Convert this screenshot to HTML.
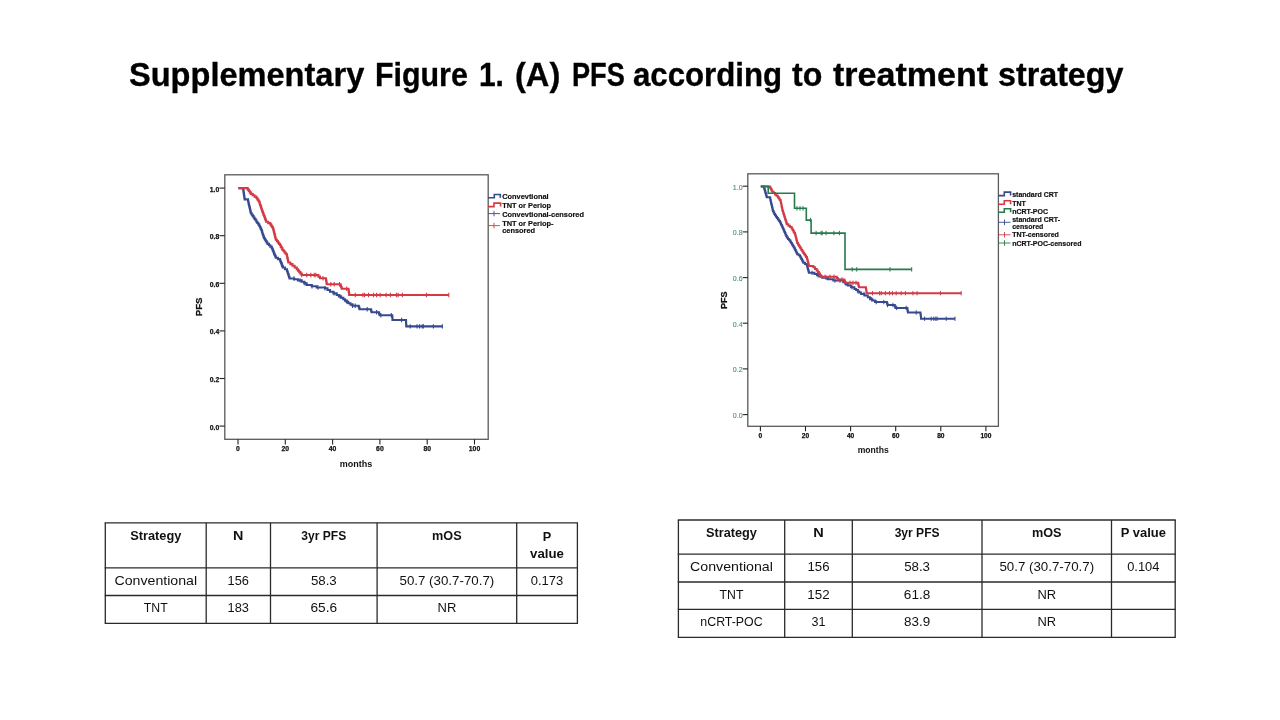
<!DOCTYPE html>
<html><head><meta charset="utf-8">
<style>
html,body{margin:0;padding:0;background:#fff;}
body{width:1280px;height:720px;position:relative;overflow:hidden;font-family:"Liberation Sans",sans-serif;}
.title{will-change:transform;position:absolute;left:0;top:53.8px;width:1280px;height:40px;font-weight:bold;font-size:34px;color:#000;white-space:nowrap;line-height:40px;}
.tw{position:absolute;top:0;transform-origin:0 0;-webkit-text-stroke:0.35px #000;}
svg{position:absolute;left:0;top:0;will-change:transform;}
.yt1,.xt1{font-family:"Liberation Sans",sans-serif;font-weight:bold;font-size:6.8px;fill:#111;stroke:#111;stroke-width:0.25px;}
.yt2{font-family:"Liberation Sans",sans-serif;font-size:7.0px;fill:#4f9672;stroke:#4f9672;stroke-width:0.15px;}
.xt2{font-family:"Liberation Sans",sans-serif;font-weight:bold;font-size:6.6px;fill:#111;stroke:#111;stroke-width:0.25px;}
.ax1{font-family:"Liberation Sans",sans-serif;font-weight:bold;font-size:9px;fill:#111;}
.ax1p{font-family:"Liberation Sans",sans-serif;font-weight:bold;font-size:9.6px;fill:#111;stroke:#111;stroke-width:0.25px;}
.ax2{font-family:"Liberation Sans",sans-serif;font-weight:bold;font-size:8.6px;fill:#111;}
.ax2p{font-family:"Liberation Sans",sans-serif;font-weight:bold;font-size:9.0px;fill:#111;stroke:#111;stroke-width:0.25px;}
.lg1{font-family:"Liberation Sans",sans-serif;font-weight:bold;font-size:7.4px;fill:#111;stroke:#111;stroke-width:0.18px;}
.lg2{font-family:"Liberation Sans",sans-serif;font-weight:bold;font-size:7.0px;fill:#111;stroke:#111;stroke-width:0.18px;}
table{position:absolute;border-collapse:collapse;font-family:"Liberation Sans",sans-serif;font-size:13.5px;color:#111;}
td{border:1.3px solid #333;text-align:center;vertical-align:top;padding:0;}
th{border:1.3px solid #333;text-align:center;vertical-align:top;padding:0;font-weight:bold;}
</style></head><body>
<div class="title"><span class="tw" style="left:129.0px;transform:scaleX(0.9578)">Supplementary</span><span class="tw" style="left:374.6px;transform:scaleX(0.8931)">Figure</span><span class="tw" style="left:478.9px;transform:scaleX(0.8792)">1.</span><span class="tw" style="left:515.1px;transform:scaleX(0.9591)">(A)</span><span class="tw" style="left:571.7px;transform:scaleX(0.7984)">PFS</span><span class="tw" style="left:633.3px;transform:scaleX(0.9176)">according</span><span class="tw" style="left:792.3px;transform:scaleX(0.9452)">to</span><span class="tw" style="left:833.3px;transform:scaleX(1.0006)">treatment</span><span class="tw" style="left:997.7px;transform:scaleX(0.9481)">strategy</span></div>
<svg width="1280" height="720" viewBox="0 0 1280 720">
<rect x="224.8" y="174.8" width="263.4" height="264.5" fill="none" stroke="#5a5a5a" stroke-width="1.3"/>
<line x1="219.5" y1="426.1" x2="224.8" y2="426.1" stroke="#222" stroke-width="1.1"/>
<text x="219.3" y="429.5" text-anchor="end" class="yt1">0.0</text>
<line x1="219.5" y1="378.5" x2="224.8" y2="378.5" stroke="#222" stroke-width="1.1"/>
<text x="219.3" y="381.9" text-anchor="end" class="yt1">0.2</text>
<line x1="219.5" y1="330.9" x2="224.8" y2="330.9" stroke="#222" stroke-width="1.1"/>
<text x="219.3" y="334.3" text-anchor="end" class="yt1">0.4</text>
<line x1="219.5" y1="283.3" x2="224.8" y2="283.3" stroke="#222" stroke-width="1.1"/>
<text x="219.3" y="286.7" text-anchor="end" class="yt1">0.6</text>
<line x1="219.5" y1="235.7" x2="224.8" y2="235.7" stroke="#222" stroke-width="1.1"/>
<text x="219.3" y="239.1" text-anchor="end" class="yt1">0.8</text>
<line x1="219.5" y1="188.1" x2="224.8" y2="188.1" stroke="#222" stroke-width="1.1"/>
<text x="219.3" y="191.5" text-anchor="end" class="yt1">1.0</text>
<line x1="238.0" y1="439.3" x2="238.0" y2="444.5" stroke="#222" stroke-width="1.1"/>
<text x="238.0" y="451" text-anchor="middle" class="xt1">0</text>
<line x1="285.3" y1="439.3" x2="285.3" y2="444.5" stroke="#222" stroke-width="1.1"/>
<text x="285.3" y="451" text-anchor="middle" class="xt1">20</text>
<line x1="332.6" y1="439.3" x2="332.6" y2="444.5" stroke="#222" stroke-width="1.1"/>
<text x="332.6" y="451" text-anchor="middle" class="xt1">40</text>
<line x1="379.9" y1="439.3" x2="379.9" y2="444.5" stroke="#222" stroke-width="1.1"/>
<text x="379.9" y="451" text-anchor="middle" class="xt1">60</text>
<line x1="427.2" y1="439.3" x2="427.2" y2="444.5" stroke="#222" stroke-width="1.1"/>
<text x="427.2" y="451" text-anchor="middle" class="xt1">80</text>
<line x1="474.5" y1="439.3" x2="474.5" y2="444.5" stroke="#222" stroke-width="1.1"/>
<text x="474.5" y="451" text-anchor="middle" class="xt1">100</text>
<text x="356" y="467.2" text-anchor="middle" class="ax1">months</text>
<text transform="translate(201.6 306.9) rotate(-90)" text-anchor="middle" class="ax1p">PFS</text>
<path d="M238.5 188.1L243.2 188.1L243.2 189.7L243.4 189.7L243.4 191.1L243.6 191.1L243.6 192.5L243.8 192.5L243.8 193.9L244.0 193.9L244.0 195.2L244.2 195.2L244.2 196.6L244.4 196.6L244.4 198.0L244.6 198.0L244.6 199.4L248.0 199.4L248.0 200.8L248.3 200.8L248.3 202.2L248.6 202.2L248.6 203.6L248.9 203.6L248.9 205.0L249.2 205.0L249.2 206.4L249.6 206.4L249.6 207.7L249.9 207.7L249.9 209.1L250.2 209.1L250.2 210.5L250.5 210.5L250.5 211.9L250.8 211.9L250.8 213.3L251.7 213.3L251.7 214.7L252.7 214.7L252.7 216.1L253.6 216.1L253.6 217.5L254.5 217.5L254.5 218.9L255.5 218.9L255.5 220.3L256.4 220.3L256.4 221.7L257.3 221.7L257.3 223.0L258.3 223.0L258.3 224.4L259.2 224.4L259.2 225.8L259.9 225.8L259.9 227.2L260.6 227.2L260.6 228.6L261.3 228.6L261.3 230.0L261.8 230.0L261.8 231.4L262.2 231.4L262.2 232.8L262.6 232.8L262.6 234.2L263.1 234.2L263.1 235.5L263.6 235.5L263.6 236.9L264.0 236.9L264.0 238.3L264.9 238.3L264.9 239.7L265.8 239.7L265.8 241.1L266.6 241.1L266.6 242.5L267.5 242.5L267.5 243.9L268.9 243.9L268.9 245.3L270.3 245.3L270.3 246.6L271.7 246.6L271.7 248.0L272.3 248.0L272.3 249.4L272.9 249.4L272.9 250.8L273.5 250.8L273.5 252.2L274.0 252.2L274.0 253.6L274.6 253.6L274.6 255.0L275.2 255.0L275.2 256.4L275.8 256.4L275.8 257.8L277.9 257.8L277.9 259.1L280.0 259.1L280.0 260.5L280.6 260.5L280.6 261.9L281.1 261.9L281.1 263.3L281.7 263.3L281.7 264.7L282.2 264.7L282.2 266.1L282.8 266.1L282.8 267.5L284.9 267.5L284.9 269.2L287.0 269.2L287.0 271.0L287.5 271.0L287.5 272.5L288.0 272.5L288.0 274.0L288.5 274.0L288.5 275.5L289.0 275.5L289.0 277.0L289.5 277.0L289.5 278.5L294.2 278.5L294.2 279.2L297.9 279.2L297.9 280.4L301.7 280.4L301.7 281.7L304.2 281.7L304.2 283.4L306.7 283.4L306.7 285.0L311.7 285.0L311.7 286.2L316.7 286.2L316.7 287.5L325.0 287.5L325.0 288.3L327.5 288.3L327.5 290.0L330.0 290.0L330.0 291.7L333.4 291.7L333.4 293.4L336.7 293.4L336.7 295.0L338.9 295.0L338.9 296.4L341.1 296.4L341.1 297.8L343.3 297.8L343.3 299.2L345.0 299.2L345.0 300.6L346.6 300.6L346.6 301.9L348.3 301.9L348.3 303.3L350.5 303.3L350.5 304.6L352.6 304.6L352.6 305.8L358.6 305.8L358.6 306.6L359.1 306.6L359.1 307.9L359.5 307.9L359.5 309.2L370.6 309.2L371.1 309.2L371.1 310.7L371.5 310.7L371.5 312.2L378.4 312.2L379.0 312.2L379.0 313.7L379.6 313.7L379.6 315.2L392.1 315.2L392.2 315.2L392.2 316.8L392.4 316.8L392.4 318.4L392.5 318.4L392.5 320.0L405.9 320.0L406.0 320.0L406.0 321.3L406.1 321.3L406.1 322.6L406.1 322.6L406.1 323.8L406.2 323.8L406.2 325.1L406.3 325.1L406.3 326.4L442.4 326.4" fill="none" stroke="#37498f" stroke-width="2.1" stroke-linejoin="miter"/>
<path d="M282.0 262.5V266.9M294.0 276.3V280.7M300.0 278.2V282.6M305.0 281.2V285.6M312.0 284.1V288.4M318.0 285.3V289.7M325.0 286.1V290.5M334.0 291.2V295.6M340.0 294.2V298.6M347.0 299.7V304.1M352.6 303.6V308.0M355.2 303.6V308.0M367.2 307.0V311.4M376.6 310.0V314.4M380.9 313.0V317.4M391.3 313.0V317.4M401.6 317.8V322.2M410.2 324.2V328.6M417.0 324.2V328.6M419.6 324.2V328.6M422.2 324.2V328.6M423.5 324.2V328.6M433.4 324.2V328.6M442.4 324.2V328.6" fill="none" stroke="#37498f" stroke-width="1.1"/>
<path d="M238.3 188.1L246.7 188.1L247.7 188.1L247.7 189.6L248.8 189.6L248.8 191.0L249.8 191.0L249.8 192.4L250.8 192.4L250.8 193.9L252.7 193.9L252.7 195.3L254.5 195.3L254.5 196.6L256.4 196.6L256.4 198.0L257.3 198.0L257.3 199.4L258.3 199.4L258.3 200.8L259.2 200.8L259.2 202.2L259.7 202.2L259.7 203.6L260.1 203.6L260.1 205.0L260.6 205.0L260.6 206.4L261.1 206.4L261.1 207.8L261.5 207.8L261.5 209.2L262.0 209.2L262.0 210.6L262.5 210.6L262.5 212.0L263.0 212.0L263.0 213.4L263.5 213.4L263.5 214.8L264.1 214.8L264.1 216.1L264.6 216.1L264.6 217.5L265.1 217.5L265.1 218.9L265.6 218.9L265.6 220.3L266.1 220.3L266.1 221.7L268.2 221.7L268.2 223.1L270.3 223.1L270.3 224.4L271.2 224.4L271.2 225.8L272.1 225.8L272.1 227.2L273.0 227.2L273.0 228.6L273.4 228.6L273.4 230.0L273.7 230.0L273.7 231.4L274.1 231.4L274.1 232.8L274.4 232.8L274.4 234.1L274.8 234.1L274.8 235.5L275.1 235.5L275.1 236.9L275.4 236.9L275.4 238.3L275.8 238.3L275.8 239.7L276.9 239.7L276.9 241.1L277.9 241.1L277.9 242.5L278.9 242.5L278.9 243.9L280.0 243.9L280.0 245.3L280.8 245.3L280.8 246.9L281.7 246.9L281.7 248.4L282.5 248.4L282.5 250.0L283.6 250.0L283.6 251.2L284.6 251.2L284.6 252.5L285.6 252.5L285.6 253.8L286.7 253.8L286.7 255.0L287.0 255.0L287.0 256.5L287.3 256.5L287.3 258.0L287.7 258.0L287.7 259.5L288.0 259.5L288.0 261.0L288.3 261.0L288.3 262.5L290.4 262.5L290.4 264.1L292.5 264.1L292.5 265.8L294.6 265.8L294.6 267.5L296.7 267.5L296.7 269.2L297.9 269.2L297.9 270.6L299.2 270.6L299.2 272.1L300.4 272.1L300.4 273.6L301.7 273.6L301.7 275.0L316.7 275.0L318.4 275.0L318.4 276.6L320.0 276.6L320.0 278.3L325.8 278.3L326.0 278.3L326.0 279.8L326.2 279.8L326.2 281.2L326.5 281.2L326.5 282.7L326.7 282.7L326.7 284.2L340.0 284.2L340.6 284.2L340.6 285.7L341.1 285.7L341.1 287.2L341.7 287.2L341.7 288.8L348.3 288.8L348.5 288.8L348.5 290.3L348.8 290.3L348.8 291.9L349.0 291.9L349.0 293.4L349.2 293.4L349.2 295.0L448.8 295.0" fill="none" stroke="#d43a45" stroke-width="2.1"/>
<path d="M301.7 272.8V277.2M306.7 272.8V277.2M310.8 272.8V277.2M314.2 272.8V277.2M315.8 272.8V277.2M323.0 276.1V280.5M330.8 282.0V286.4M334.2 282.0V286.4M339.5 282.0V286.4M346.7 286.6V290.9M355.2 292.8V297.2M362.9 292.8V297.2M364.6 292.8V297.2M368.5 292.8V297.2M373.6 292.8V297.2M376.6 292.8V297.2M380.1 292.8V297.2M386.1 292.8V297.2M390.4 292.8V297.2M396.4 292.8V297.2M398.1 292.8V297.2M402.4 292.8V297.2M426.5 292.8V297.2M448.8 292.8V297.2" fill="none" stroke="#d43a45" stroke-width="1.1"/>
<path d="M488 197.8H494.3V194.5H500.3V197.8" fill="none" stroke="#37498f" stroke-width="1.6"/>
<path d="M488 206.6H494V203.1H500.6V206.6" fill="none" stroke="#d43a45" stroke-width="1.6"/>
<path d="M488 213.6H500M494 210.9V216.3" fill="none" stroke="#37498f" stroke-width="0.9"/>
<path d="M488 225.6H500M494 222.8V228.4" fill="none" stroke="#d43a45" stroke-width="0.9"/>
<text x="502.2" y="199.2" class="lg1">Convevtional</text>
<text x="502.2" y="208.2" class="lg1">TNT or Periop</text>
<text x="502.2" y="216.6" class="lg1">Convevtional-censored</text>
<text x="502.2" y="226" class="lg1">TNT or Periop-</text>
<text x="502.2" y="232.6" class="lg1">censored</text>
<rect x="747.8" y="173.8" width="250.6" height="252.5" fill="none" stroke="#5a5a5a" stroke-width="1.3"/>
<line x1="742.8" y1="414.6" x2="747.8" y2="414.6" stroke="#222" stroke-width="1.1"/>
<text x="742.6" y="417.9" text-anchor="end" class="yt2">0.0</text>
<line x1="742.8" y1="368.9" x2="747.8" y2="368.9" stroke="#222" stroke-width="1.1"/>
<text x="742.6" y="372.2" text-anchor="end" class="yt2">0.2</text>
<line x1="742.8" y1="323.2" x2="747.8" y2="323.2" stroke="#222" stroke-width="1.1"/>
<text x="742.6" y="326.5" text-anchor="end" class="yt2">0.4</text>
<line x1="742.8" y1="277.6" x2="747.8" y2="277.6" stroke="#222" stroke-width="1.1"/>
<text x="742.6" y="280.9" text-anchor="end" class="yt2">0.6</text>
<line x1="742.8" y1="231.9" x2="747.8" y2="231.9" stroke="#222" stroke-width="1.1"/>
<text x="742.6" y="235.2" text-anchor="end" class="yt2">0.8</text>
<line x1="742.8" y1="186.2" x2="747.8" y2="186.2" stroke="#222" stroke-width="1.1"/>
<text x="742.6" y="189.5" text-anchor="end" class="yt2">1.0</text>
<line x1="760.4" y1="426.3" x2="760.4" y2="431.3" stroke="#222" stroke-width="1.1"/>
<text x="760.4" y="437.9" text-anchor="middle" class="xt2">0</text>
<line x1="805.5" y1="426.3" x2="805.5" y2="431.3" stroke="#222" stroke-width="1.1"/>
<text x="805.5" y="437.9" text-anchor="middle" class="xt2">20</text>
<line x1="850.6" y1="426.3" x2="850.6" y2="431.3" stroke="#222" stroke-width="1.1"/>
<text x="850.6" y="437.9" text-anchor="middle" class="xt2">40</text>
<line x1="895.7" y1="426.3" x2="895.7" y2="431.3" stroke="#222" stroke-width="1.1"/>
<text x="895.7" y="437.9" text-anchor="middle" class="xt2">60</text>
<line x1="940.8" y1="426.3" x2="940.8" y2="431.3" stroke="#222" stroke-width="1.1"/>
<text x="940.8" y="437.9" text-anchor="middle" class="xt2">80</text>
<line x1="985.9" y1="426.3" x2="985.9" y2="431.3" stroke="#222" stroke-width="1.1"/>
<text x="985.9" y="437.9" text-anchor="middle" class="xt2">100</text>
<text x="873.2" y="453.4" text-anchor="middle" class="ax2">months</text>
<text transform="translate(727 300.2) rotate(-90)" text-anchor="middle" class="ax2p">PFS</text>
<path d="M760.8 186.4L763.9 186.4L763.9 187.5L764.3 187.5L764.3 188.9L764.7 188.9L764.7 190.3L765.1 190.3L765.1 191.7L765.5 191.7L765.5 193.0L765.9 193.0L765.9 194.4L766.3 194.4L766.3 195.8L766.7 195.8L766.7 197.2L770.1 197.2L770.1 198.6L770.4 198.6L770.4 200.0L770.7 200.0L770.7 201.4L771.0 201.4L771.0 202.8L771.3 202.8L771.3 204.2L771.7 204.2L771.7 205.5L772.0 205.5L772.0 206.9L772.3 206.9L772.3 208.3L772.6 208.3L772.6 209.7L772.9 209.7L772.9 211.1L773.6 211.1L773.6 212.5L774.3 212.5L774.3 213.9L775.0 213.9L775.0 215.3L776.0 215.3L776.0 216.7L777.0 216.7L777.0 218.1L777.9 218.1L777.9 219.4L778.9 219.4L778.9 220.8L779.9 220.8L779.9 222.2L780.6 222.2L780.6 223.6L781.2 223.6L781.2 225.0L781.9 225.0L781.9 226.4L782.6 226.4L782.6 227.8L783.2 227.8L783.2 229.2L783.8 229.2L783.8 230.6L784.4 230.6L784.4 232.0L785.0 232.0L785.0 233.3L785.6 233.3L785.6 234.7L786.2 234.7L786.2 236.1L786.8 236.1L786.8 237.5L788.0 237.5L788.0 238.9L789.1 238.9L789.1 240.3L790.3 240.3L790.3 241.7L791.1 241.7L791.1 243.1L791.9 243.1L791.9 244.5L792.8 244.5L792.8 245.8L793.6 245.8L793.6 247.2L794.4 247.2L794.4 248.6L795.1 248.6L795.1 250.0L795.8 250.0L795.8 251.4L796.5 251.4L796.5 252.8L797.2 252.8L797.2 254.2L798.6 254.2L798.6 255.3L800.0 255.3L800.0 256.5L800.7 256.5L800.7 257.8L801.3 257.8L801.3 259.0L802.0 259.0L802.0 260.3L802.6 260.3L802.6 261.5L803.3 261.5L803.3 262.8L805.0 262.8L805.0 263.9L806.7 263.9L806.7 265.0L807.1 265.0L807.1 266.3L807.4 266.3L807.4 267.6L807.8 267.6L807.8 268.9L808.2 268.9L808.2 270.2L808.5 270.2L808.5 271.5L808.9 271.5L808.9 272.8L814.4 272.8L814.4 273.9L817.0 273.9L817.0 275.2L819.6 275.2L819.6 276.5L822.2 276.5L822.2 277.8L827.8 277.8L827.8 279.2L833.3 279.2L833.3 280.6L843.3 280.6L843.3 282.2L845.5 282.2L845.5 283.9L847.8 283.9L847.8 285.6L851.1 285.6L851.1 287.2L854.4 287.2L854.4 288.9L856.1 288.9L856.1 290.1L857.8 290.1L857.8 291.4L859.4 291.4L859.4 292.6L861.1 292.6L861.1 293.9L864.5 293.9L864.5 295.5L867.8 295.5L867.8 297.2L870.0 297.2L870.0 299.2L872.5 299.2L872.5 300.6L875.0 300.6L875.0 302.1L886.2 302.1L886.9 302.1L886.9 303.6L887.5 303.6L887.5 305.0L894.2 305.0L894.8 305.0L894.8 306.4L895.4 306.4L895.4 307.9L907.1 307.9L907.4 307.9L907.4 309.4L907.6 309.4L907.6 311.0L907.9 311.0L907.9 312.5L920.4 312.5L920.5 312.5L920.5 314.1L920.7 314.1L920.7 315.6L920.9 315.6L920.9 317.2L921.0 317.2L921.0 318.8L955.0 318.8" fill="none" stroke="#37498f" stroke-width="2.0"/>
<path d="M812.0 270.6V275.0M818.0 273.0V277.4M826.0 275.6V280.0M835.0 278.4V282.8M840.0 278.4V282.8M846.0 281.7V286.1M852.0 285.1V289.4M858.0 289.2V293.6M864.0 291.7V296.1M871.7 297.0V301.4M876.2 299.9V304.3M883.8 299.9V304.3M887.5 302.8V307.2M892.9 302.8V307.2M896.7 305.7V310.1M906.2 305.7V310.1M916.2 310.3V314.7M924.6 316.6V320.9M931.2 316.6V320.9M933.8 316.6V320.9M935.8 316.6V320.9M937.1 316.6V320.9M946.2 316.6V320.9M955.0 316.6V320.9" fill="none" stroke="#37498f" stroke-width="1.0"/>
<path d="M760.8 186.4L769.4 186.4L770.1 186.4L770.1 187.7L770.8 187.7L770.8 189.1L771.5 189.1L771.5 190.4L772.2 190.4L772.2 191.7L773.6 191.7L773.6 193.1L775.0 193.1L775.0 194.4L776.4 194.4L776.4 195.8L777.8 195.8L777.8 197.2L778.7 197.2L778.7 198.6L779.7 198.6L779.7 200.0L780.6 200.0L780.6 201.4L780.9 201.4L780.9 202.8L781.2 202.8L781.2 204.2L781.5 204.2L781.5 205.6L781.7 205.6L781.7 206.9L782.0 206.9L782.0 208.3L782.3 208.3L782.3 209.7L782.6 209.7L782.6 211.1L783.1 211.1L783.1 212.6L783.5 212.6L783.5 214.0L784.0 214.0L784.0 215.5L784.5 215.5L784.5 217.0L784.9 217.0L784.9 218.4L785.4 218.4L785.4 219.9L785.9 219.9L785.9 221.4L786.3 221.4L786.3 222.8L786.8 222.8L786.8 224.3L788.4 224.3L788.4 225.7L790.1 225.7L790.1 227.1L791.7 227.1L791.7 228.5L792.6 228.5L792.6 230.1L793.4 230.1L793.4 231.6L794.2 231.6L794.2 233.1L795.1 233.1L795.1 234.7L795.5 234.7L795.5 236.1L795.8 236.1L795.8 237.5L796.2 237.5L796.2 238.8L796.5 238.8L796.5 240.2L796.9 240.2L796.9 241.6L797.2 241.6L797.2 243.0L798.0 243.0L798.0 244.4L798.9 244.4L798.9 245.8L799.7 245.8L799.7 247.2L800.6 247.2L800.6 248.6L801.4 248.6L801.4 250.0L802.3 250.0L802.3 251.4L803.2 251.4L803.2 252.8L804.1 252.8L804.1 254.2L805.1 254.2L805.1 255.5L806.0 255.5L806.0 256.9L806.9 256.9L806.9 258.3L807.2 258.3L807.2 259.6L807.6 259.6L807.6 260.9L807.9 260.9L807.9 262.2L808.2 262.2L808.2 263.5L808.6 263.5L808.6 264.8L808.9 264.8L808.9 266.1L813.3 266.1L813.3 267.2L815.0 267.2L815.0 268.9L816.7 268.9L816.7 270.6L817.8 270.6L817.8 272.1L818.9 272.1L818.9 273.6L820.0 273.6L820.0 275.2L821.1 275.2L821.1 276.7L835.6 276.7L836.7 276.7L836.7 278.0L837.8 278.0L837.8 279.4L843.9 279.4L844.5 279.4L844.5 281.1L845.0 281.1L845.0 282.8L857.8 282.8L858.2 282.8L858.2 284.3L858.5 284.3L858.5 285.7L858.9 285.7L858.9 287.2L865.6 287.2L865.9 287.2L865.9 288.7L866.2 288.7L866.2 290.2L866.4 290.2L866.4 291.7L866.7 291.7L866.7 293.2L961.2 293.2" fill="none" stroke="#d43a45" stroke-width="2.0"/>
<path d="M825.0 274.5V278.9M830.0 274.5V278.9M834.0 274.5V278.9M838.0 277.2V281.6M842.0 277.2V281.6M850.0 280.6V285.0M853.0 280.6V285.0M856.0 280.6V285.0M872.5 291.0V295.4M879.6 291.0V295.4M881.2 291.0V295.4M885.4 291.0V295.4M889.6 291.0V295.4M892.5 291.0V295.4M896.2 291.0V295.4M901.2 291.0V295.4M905.4 291.0V295.4M912.9 291.0V295.4M917.1 291.0V295.4M940.4 291.0V295.4M961.2 291.0V295.4" fill="none" stroke="#d43a45" stroke-width="1.0"/>
<path d="M760.8 186.4L768.2 186.4L768.2 193.3L794.5 193.3L794.5 208.3L806.3 208.3L806.3 220.1L811.1 220.1L811.1 233.1L845.0 233.1L845.0 269.4L911.7 269.4" fill="none" stroke="#277a4c" stroke-width="1.6"/>
<path d="M797.0 206.1V210.6M800.0 206.1V210.6M803.0 206.1V210.6M810.4 217.8V222.3M816.1 230.8V235.3M821.1 230.8V235.3M822.2 230.8V235.3M826.1 230.8V235.3M833.9 230.8V235.3M839.4 230.8V235.3M852.2 267.1V271.6M856.7 267.1V271.6M890.0 267.1V271.6M911.7 267.1V271.6" fill="none" stroke="#277a4c" stroke-width="1.0"/>
<path d="M998.4 195.6H1004.3V192.1H1010.6V195.6" fill="none" stroke="#37498f" stroke-width="1.6"/>
<path d="M998.4 204.2H1004.3V200.7H1010.6V204.2" fill="none" stroke="#d43a45" stroke-width="1.6"/>
<path d="M998.4 212.2H1004.3V208.7H1010.6V212.2" fill="none" stroke="#277a4c" stroke-width="1.6"/>
<path d="M998.4 222.3H1010.5M1004.5 219.5V225.1" fill="none" stroke="#37498f" stroke-width="0.9"/>
<path d="M998.4 234.8H1010.5M1004.5 232V237.6" fill="none" stroke="#d43a45" stroke-width="0.9"/>
<path d="M998.4 243H1010.5M1004.5 240.2V245.8" fill="none" stroke="#277a4c" stroke-width="0.9"/>
<text x="1012.2" y="197.4" class="lg2">standard CRT</text>
<text x="1012.2" y="205.9" class="lg2">TNT</text>
<text x="1012.2" y="213.9" class="lg2">nCRT-POC</text>
<text x="1012.2" y="222.4" class="lg2">standard CRT-</text>
<text x="1012.2" y="228.6" class="lg2">censored</text>
<text x="1012.2" y="237.1" class="lg2">TNT-censored</text>
<text x="1012.2" y="245.5" class="lg2">nCRT-POC-censored</text>
</svg>
<svg width="1280" height="720" viewBox="0 0 1280 720">
<style>.th{font-family:"Liberation Sans",sans-serif;font-weight:bold;font-size:12.8px;fill:#111}.td{font-family:"Liberation Sans",sans-serif;font-size:13.3px;fill:#111}</style>
<line x1="104.7" y1="522.8" x2="578.0" y2="522.8" stroke="#2a2a2a" stroke-width="1.3"/>
<line x1="104.7" y1="567.8" x2="578.0" y2="567.8" stroke="#2a2a2a" stroke-width="1.3"/>
<line x1="104.7" y1="595.5" x2="578.0" y2="595.5" stroke="#2a2a2a" stroke-width="1.3"/>
<line x1="104.7" y1="623.3" x2="578.0" y2="623.3" stroke="#2a2a2a" stroke-width="1.3"/>
<line x1="105.3" y1="522.8" x2="105.3" y2="623.3" stroke="#2a2a2a" stroke-width="1.3"/>
<line x1="206.2" y1="522.8" x2="206.2" y2="623.3" stroke="#2a2a2a" stroke-width="1.3"/>
<line x1="270.5" y1="522.8" x2="270.5" y2="623.3" stroke="#2a2a2a" stroke-width="1.3"/>
<line x1="377.1" y1="522.8" x2="377.1" y2="623.3" stroke="#2a2a2a" stroke-width="1.3"/>
<line x1="516.7" y1="522.8" x2="516.7" y2="623.3" stroke="#2a2a2a" stroke-width="1.3"/>
<line x1="577.4" y1="522.8" x2="577.4" y2="623.3" stroke="#2a2a2a" stroke-width="1.3"/>
<text x="155.8" y="540.2" text-anchor="middle" class="th" textLength="51.22" lengthAdjust="spacingAndGlyphs">Strategy</text>
<text x="238.3" y="540.2" text-anchor="middle" class="th" textLength="10.38" lengthAdjust="spacingAndGlyphs">N</text>
<text x="323.8" y="540.2" text-anchor="middle" class="th" textLength="44.93" lengthAdjust="spacingAndGlyphs">3yr PFS</text>
<text x="446.9" y="540.2" text-anchor="middle" class="th" textLength="29.56" lengthAdjust="spacingAndGlyphs">mOS</text>
<text x="547.0" y="541.4" text-anchor="middle" class="th" textLength="8.49" lengthAdjust="spacingAndGlyphs">P</text>
<text x="547.0" y="558.2" text-anchor="middle" class="th" textLength="33.90" lengthAdjust="spacingAndGlyphs">value</text>
<text x="155.8" y="585.0" text-anchor="middle" class="td" textLength="82.63" lengthAdjust="spacingAndGlyphs">Conventional</text>
<text x="238.3" y="585.0" text-anchor="middle" class="td" textLength="21.39" lengthAdjust="spacingAndGlyphs">156</text>
<text x="323.8" y="585.0" text-anchor="middle" class="td" textLength="25.84" lengthAdjust="spacingAndGlyphs">58.3</text>
<text x="446.9" y="585.0" text-anchor="middle" class="td" textLength="94.78" lengthAdjust="spacingAndGlyphs">50.7 (30.7-70.7)</text>
<text x="547.0" y="585.0" text-anchor="middle" class="td" textLength="32.51" lengthAdjust="spacingAndGlyphs">0.173</text>
<text x="155.8" y="612.0" text-anchor="middle" class="td" textLength="23.86" lengthAdjust="spacingAndGlyphs">TNT</text>
<text x="238.3" y="612.0" text-anchor="middle" class="td" textLength="21.39" lengthAdjust="spacingAndGlyphs">183</text>
<text x="323.8" y="612.0" text-anchor="middle" class="td" textLength="26.63" lengthAdjust="spacingAndGlyphs">65.6</text>
<text x="446.9" y="612.0" text-anchor="middle" class="td" textLength="18.78" lengthAdjust="spacingAndGlyphs">NR</text>
<line x1="677.8" y1="520.0" x2="1175.8" y2="520.0" stroke="#2a2a2a" stroke-width="1.3"/>
<line x1="677.8" y1="554.2" x2="1175.8" y2="554.2" stroke="#2a2a2a" stroke-width="1.3"/>
<line x1="677.8" y1="582.0" x2="1175.8" y2="582.0" stroke="#2a2a2a" stroke-width="1.3"/>
<line x1="677.8" y1="609.4" x2="1175.8" y2="609.4" stroke="#2a2a2a" stroke-width="1.3"/>
<line x1="677.8" y1="637.4" x2="1175.8" y2="637.4" stroke="#2a2a2a" stroke-width="1.3"/>
<line x1="678.4" y1="520.0" x2="678.4" y2="637.4" stroke="#2a2a2a" stroke-width="1.3"/>
<line x1="784.7" y1="520.0" x2="784.7" y2="637.4" stroke="#2a2a2a" stroke-width="1.3"/>
<line x1="852.3" y1="520.0" x2="852.3" y2="637.4" stroke="#2a2a2a" stroke-width="1.3"/>
<line x1="982.0" y1="520.0" x2="982.0" y2="637.4" stroke="#2a2a2a" stroke-width="1.3"/>
<line x1="1111.5" y1="520.0" x2="1111.5" y2="637.4" stroke="#2a2a2a" stroke-width="1.3"/>
<line x1="1175.2" y1="520.0" x2="1175.2" y2="637.4" stroke="#2a2a2a" stroke-width="1.3"/>
<text x="731.5" y="537.1" text-anchor="middle" class="th" textLength="50.91" lengthAdjust="spacingAndGlyphs">Strategy</text>
<text x="818.5" y="537.1" text-anchor="middle" class="th" textLength="10.50" lengthAdjust="spacingAndGlyphs">N</text>
<text x="917.1" y="537.1" text-anchor="middle" class="th" textLength="44.93" lengthAdjust="spacingAndGlyphs">3yr PFS</text>
<text x="1046.8" y="537.1" text-anchor="middle" class="th" textLength="29.56" lengthAdjust="spacingAndGlyphs">mOS</text>
<text x="1143.3" y="537.1" text-anchor="middle" class="th" textLength="45.21" lengthAdjust="spacingAndGlyphs">P value</text>
<text x="731.5" y="571.1" text-anchor="middle" class="td" textLength="82.83" lengthAdjust="spacingAndGlyphs">Conventional</text>
<text x="818.5" y="571.1" text-anchor="middle" class="td" textLength="22.03" lengthAdjust="spacingAndGlyphs">156</text>
<text x="917.1" y="571.1" text-anchor="middle" class="td" textLength="25.84" lengthAdjust="spacingAndGlyphs">58.3</text>
<text x="1046.8" y="571.1" text-anchor="middle" class="td" textLength="94.68" lengthAdjust="spacingAndGlyphs">50.7 (30.7-70.7)</text>
<text x="1143.3" y="571.1" text-anchor="middle" class="td" textLength="32.26" lengthAdjust="spacingAndGlyphs">0.104</text>
<text x="731.5" y="598.9" text-anchor="middle" class="td" textLength="23.86" lengthAdjust="spacingAndGlyphs">TNT</text>
<text x="818.5" y="598.9" text-anchor="middle" class="td" textLength="22.30" lengthAdjust="spacingAndGlyphs">152</text>
<text x="917.1" y="598.9" text-anchor="middle" class="td" textLength="26.42" lengthAdjust="spacingAndGlyphs">61.8</text>
<text x="1046.8" y="598.9" text-anchor="middle" class="td" textLength="18.67" lengthAdjust="spacingAndGlyphs">NR</text>
<text x="731.5" y="626.1" text-anchor="middle" class="td" textLength="62.36" lengthAdjust="spacingAndGlyphs">nCRT-POC</text>
<text x="818.5" y="626.1" text-anchor="middle" class="td" textLength="13.99" lengthAdjust="spacingAndGlyphs">31</text>
<text x="917.1" y="626.1" text-anchor="middle" class="td" textLength="26.15" lengthAdjust="spacingAndGlyphs">83.9</text>
<text x="1046.8" y="626.1" text-anchor="middle" class="td" textLength="18.67" lengthAdjust="spacingAndGlyphs">NR</text>
</svg>
</body></html>
